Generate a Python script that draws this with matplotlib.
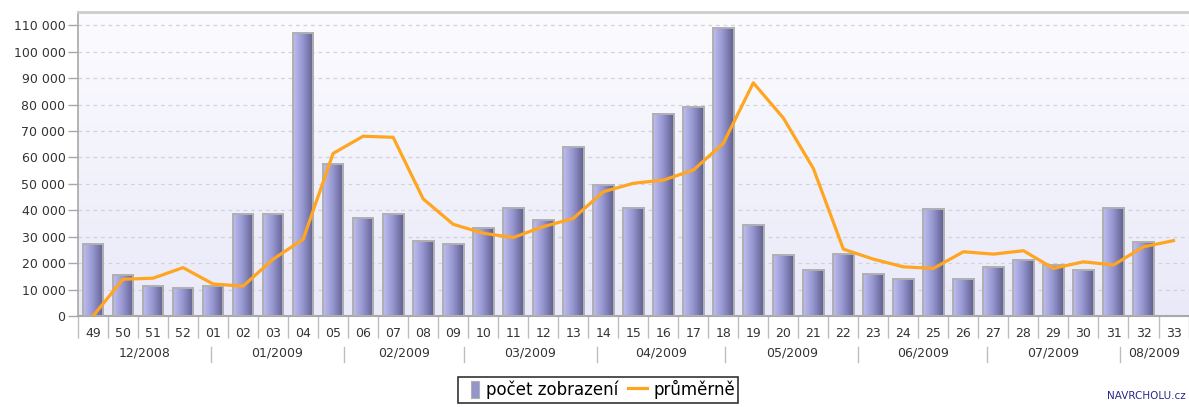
"""
Weekly page views (bars) with the running average (line), weeks 49/2008 - 33/2009.
Saved to: out.png
"""

from datetime import date

import matplotlib

matplotlib.use("Agg")
import matplotlib.pyplot as plt
import matplotlib.ticker as mticker
import matplotlib.transforms as mtransforms
import numpy as np
from matplotlib.colors import LinearSegmentedColormap
from matplotlib.lines import Line2D
from matplotlib.patches import Patch

# ── Data ──────────────────────────────────────────────────────────────────────

WEEKS = ["49", "50", "51", "52"] + [f"{w:02d}" for w in range(1, 34)]

VIEWS = [
    27200, 15400, 11300, 10700, 11300, 38400, 38400, 107100, 57400, 36900,
    38400, 28500, 27100, 33100, 40800, 36300, 64000, 49500, 40900, 76300,
    78900, 109000, 34400, 23200, 17400, 23300, 16000, 14100, 40300, 14100,
    18600, 21200, 19300, 17400, 40800, 27900, 0,
]

AVERAGE = [
    0, 13900, 14300, 18300, 12100, 11300, 21500, 29000, 61500, 68000,
    67600, 44300, 34700, 31300, 29700, 33800, 36900, 47000, 50200, 51400,
    55200, 65300, 88200, 74900, 55800, 25300, 21500, 18600, 18000, 24300,
    23400, 24700, 18000, 20500, 19300, 26200, 28500,
]

MONTHS = ["12/2008", "01/2009", "02/2009", "03/2009", "04/2009",
          "05/2009", "06/2009", "07/2009", "08/2009"]
FIRST_MONDAY = date(2008, 12, 1)  # Monday of ISO week 49/2008
MONTH_STARTS = [date(2009, m, 1) for m in range(1, 9)]

# ── Style ─────────────────────────────────────────────────────────────────────

ORANGE = "#FFA51F"
GRID = "#D2D2DC"
AXIS_GRAY = "#A8A8A8"
TEXT = "#333333"
BAR_CMAP = LinearSegmentedColormap.from_list(
    "bar", ["#BEBEF2", "#9494CE", "#5E5E8E"]
)
BG_CMAP = LinearSegmentedColormap.from_list("bg", ["#E9E9F9", "#FCFCFF"])


def week_pos(d: date) -> float:
    return -0.5 + (d - FIRST_MONDAY).days / 7


def main() -> None:
    n = len(WEEKS)
    x = np.arange(n)
    ymax = 115000

    fig = plt.figure(figsize=(11.89, 4.07), dpi=100)
    ax = fig.add_axes([0.0656, 0.2236, 0.934, 0.7469])

    # plot background gradient
    bg = np.linspace(0, 1, 256).reshape(-1, 1)
    ax.imshow(bg, extent=[-0.5, n - 0.5, 0, ymax], origin="lower",
              aspect="auto", cmap=BG_CMAP, zorder=0)

    # bars with horizontal gradient
    width = 0.69
    grad = np.linspace(0, 1, 64).reshape(1, -1)
    bars = ax.bar(x, VIEWS, width=width, facecolor="none",
                  edgecolor="#B0B0B0", linewidth=1.4, zorder=3)
    for bar, val in zip(bars, VIEWS):
        if val <= 0:
            bar.set_visible(False)
            continue
        x0 = bar.get_x()
        im = ax.imshow(grad, extent=[x0, x0 + width, 0, val], aspect="auto",
                       cmap=BAR_CMAP, zorder=2)
        im.set_clip_path(bar)

    ax.plot(x, AVERAGE, color=ORANGE, linewidth=2.3, zorder=4,
            solid_joinstyle="round")

    ax.set_xlim(-0.5, n - 0.5)
    ax.set_ylim(0, ymax)

    # y axis
    ax.yaxis.set_major_locator(mticker.MultipleLocator(10000))
    ax.yaxis.set_major_formatter(
        mticker.FuncFormatter(lambda v, _: f"{int(v):,}".replace(",", " "))
    )
    ax.grid(axis="y", color=GRID, linestyle=(0, (3, 3)), linewidth=0.9)
    ax.set_axisbelow(True)
    ax.tick_params(axis="y", length=7, width=1, color=AXIS_GRAY, labelsize=9,
                   labelcolor=TEXT, pad=2)

    # x axis: weeks
    ax.set_xticks(x)
    ax.set_xticklabels(WEEKS)
    ax.set_xticks(np.arange(n + 1) - 0.5, minor=True)
    ax.tick_params(axis="x", which="major", length=0, pad=8, labelsize=9,
                   labelcolor=TEXT)
    ax.tick_params(axis="x", which="minor", length=16, width=1,
                   color="#BDBDBD")

    ax.spines["right"].set_visible(False)
    ax.spines["left"].set_color(AXIS_GRAY)
    ax.spines["left"].set_linewidth(1.2)
    ax.spines["bottom"].set_color(AXIS_GRAY)
    ax.spines["bottom"].set_linewidth(1.5)
    ax.spines["top"].set_color("#CCCCCC")
    ax.spines["top"].set_linewidth(2)

    # x axis: months
    trans = mtransforms.blended_transform_factory(ax.transData, ax.transAxes)
    bounds = [-0.5] + [week_pos(d) for d in MONTH_STARTS] + [n - 0.5]
    for i, label in enumerate(MONTHS):
        ax.text((bounds[i] + bounds[i + 1]) / 2, -0.122, label,
                transform=trans, ha="center", va="center", fontsize=9,
                color=TEXT)
    for b in bounds[1:-1]:
        ax.plot([b, b], [-0.102, -0.152], transform=trans, color="#BDBDBD",
                linewidth=1, clip_on=False)

    # legend
    handles = [
        Patch(facecolor="#9494CE", edgecolor="#B0B0B0", linewidth=0.8,
              label="počet zobrazení"),
        Line2D([], [], color=ORANGE, linewidth=2.3, label="průměrně"),
    ]
    leg = fig.legend(handles=handles, loc="center", ncol=2,
                     bbox_to_anchor=(0.503, 0.042), frameon=True, fancybox=False,
                     fontsize=12, handlelength=1.1, handleheight=1.2,
                     handletextpad=0.4, columnspacing=0.6, borderpad=0.2,
                     borderaxespad=0)
    leg.get_frame().set_edgecolor("black")
    leg.get_frame().set_linewidth(1.2)
    patch = leg.legend_handles[0]
    patch.set_width(6)
    patch.set_x(7)

    fig.text(0.997, 0.026, "NAVRCHOLU.cz", ha="right", va="center",
             fontsize=7.5, color="#2A2A8A")

    fig.savefig("out.png", dpi=100)
    plt.close(fig)


if __name__ == "__main__":
    main()
